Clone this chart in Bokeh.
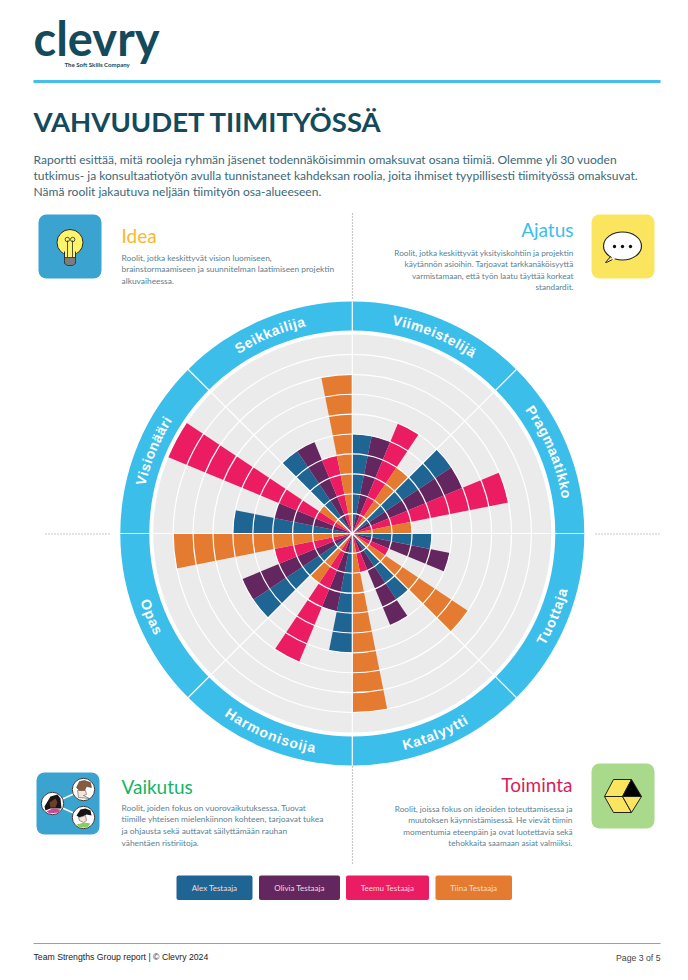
import math
from bokeh.plotting import figure
from bokeh.embed import file_html
from bokeh.resources import INLINE
from bokeh.core.properties import value
from bokeh.models import Range1d

roles = ["Viimeistelijä", "Pragmaatikko", "Tuottaja", "Katalyytti", "Harmonisoija", "Opas", "Visionääri", "Seikkailija"]
people = ["Alex Testaaja", "Olivia Testaaja", "Teemu Testaaja", "Tiina Testaaja"]
alex = [5, 6, 4, 4, 6, 6, 6, 5]
olivia = [5, 6, 5, 5, 4, 6, 4, 5]
teemu = [6, 8, 2, 2, 7, 4, 10, 4]
tiina = [4, 3, 7, 9, 3, 9, 2, 8]
series = [alex, olivia, teemu, tiina]
colors = ["#1F6593", "#64265F", "#EC1C63", "#E57B30"]
levels = [1, 2, 3, 4, 5, 6, 7, 8, 9]

TEAL = "#134A5C"
BODY = "#3A6878"
DESC = "#5A8292"
RING = "#3CBEEB"
GREY = "#EBEBEB"
BODY_FONT = "Lato"

p = figure(width=672, height=964, x_range=Range1d(0, 672), y_range=Range1d(16, 980),
           output_backend="svg", toolbar_location=None, min_border=0)
p.axis.visible = False
p.grid.visible = False
p.outline_line_color = None
p.background_fill_color = "white"


def Y(y):
    return 980 - y


def tx(x, y, s, size, color, align="left", font=BODY_FONT, bold=False, angle=0.0, base="middle"):
    p.text([x], [Y(y)], text=[s], text_font=value(font), text_font_size=f"{size}px",
           text_color=color, text_align=align, text_baseline=base, angle=[angle],
           text_font_style="bold" if bold else "normal")


def rrect(x0, y0, x1, y1, color, r=6, line=None):
    p.quad(left=[x0], right=[x1], top=[Y(y0)], bottom=[Y(y1)], fill_color=color,
           line_color=line, border_radius=r)


def poly(xs, ys, fill, line="#222222", w=1.0):
    p.patch(xs, [Y(v) for v in ys], fill_color=fill, line_color=line, line_width=w)


def seg(xs, ys, color, w=1.0, dash="solid"):
    p.line(xs, [Y(v) for v in ys], line_color=color, line_width=w, line_dash=dash)


# ---------- header ----------
tx(33, 37, "clevry", 47, TEAL, font="Lato", bold=True)
tx(64, 64, "The Soft Skills Company", 6.1, TEAL, font="Lato", bold=True)
seg([33, 660], [81, 81], "#45BEEE", 3.2)
tx(33, 121, "VAHVUUDET TIIMITYÖSSÄ", 27.5, TEAL, font="Lato", bold=True)
for yy, line in zip([158.5, 174.5, 190.5], [
    "Raportti esittää, mitä rooleja ryhmän jäsenet todennäköisimmin omaksuvat osana tiimiä. Olemme yli 30 vuoden",
    "tutkimus- ja konsultaatiotyön avulla tunnistaneet kahdeksan roolia, joita ihmiset tyypillisesti tiimityössä omaksuvat.",
    "Nämä roolit jakautuva neljään tiimityön osa-alueeseen.",
]):
    tx(33, yy, line, 12.05, BODY)

# ---------- dotted separators ----------
DOT = "#8E8E8E"
seg([352, 352], [213, 300], DOT, 1.2, "1 2")
seg([352, 352], [766, 864], DOT, 1.2, "1 2")
seg([45, 111], [533.5, 533.5], DOT, 1.2, "1 2")
seg([595, 660], [533.5, 533.5], DOT, 1.2, "1 2")

# ---------- radial chart ----------
CX, CY = 351.8, Y(533)
UNIT = 19.9
p.annulus([CX], [CY], inner_radius=203, outer_radius=232, fill_color=RING, line_color=None)
p.circle([CX], [CY], radius=199, fill_color=GREY, line_color=None)

n_roles = len(roles)
n_people = len(series)
sector = 2 * math.pi / n_roles
bar = sector / n_people
for j, vals in enumerate(series):
    ends = [math.pi / 2 - i * sector - j * bar for i in range(n_roles)]
    starts = [e - bar for e in ends]
    p.wedge([CX] * n_roles, [CY] * n_roles, radius=[v * UNIT for v in vals],
            start_angle=starts, end_angle=ends, fill_color=colors[j], line_color=None)

for lv in levels:
    p.circle([CX], [CY], radius=lv * UNIT, fill_color=None, line_color="white", line_width=1.2)

for i in range(n_roles):
    a = math.pi / 2 - i * sector
    p.line([CX, CX + 232 * math.cos(a)], [CY, CY + 232 * math.sin(a)], line_color="white", line_width=1.2)

widths = {"a": .556, "e": .556, "i": .278, "j": .278, "k": .556, "l": .278, "m": .889, "n": .611, "o": .611,
          "p": .611, "r": .389, "s": .556, "t": .333, "u": .611, "y": .556, "ä": .556, "g": .611,
          "S": .667, "V": .667, "P": .667, "H": .722, "K": .722, "T": .611, "O": .778}
LABEL_PX = 14
SPACING = 0.7
for i, role in enumerate(roles):
    mid = (i + 0.5) * sector
    lower = math.pi / 2 < mid < 3 * math.pi / 2
    ws = [widths[c] * LABEL_PX for c in role]
    total = sum(ws) + SPACING * (len(role) - 1)
    pos = -total / 2
    r = 217.5
    for c, w in zip(role, ws):
        off = (pos + w / 2) / r
        th = mid - off if lower else mid + off
        xx = CX + r * math.sin(th)
        yy = CY + r * math.cos(th)
        ang = math.pi - th if lower else -th
        p.text([xx], [yy], text=[c], text_font=value("Liberation Sans"), text_font_size=f"{LABEL_PX}px",
               text_color="white", text_font_style="bold", text_align="center", text_baseline="middle", angle=[ang])
        pos += w + SPACING

# ---------- quadrant texts ----------
tx(121, 235, "Idea", 19, "#FBB82A", bold=False)
for yy, s in zip([257, 268.5, 280], ["Roolit, jotka keskittyvät vision luomiseen,",
                                     "brainstormaamiseen ja suunnitelman laatimiseen projektin",
                                     "alkuvaiheessa."]):
    tx(121, yy, s, 8.4, DESC)

tx(573, 229, "Ajatus", 19, RING, align="right")
for yy, s in zip([252, 263, 275, 286.5], ["Roolit, jotka keskittyvät yksityiskohtiin ja projektin",
                                          "käytännön asioihin. Tarjoavat tarkkanäköisyyttä",
                                          "varmistamaan, että työn laatu täyttää korkeat",
                                          "standardit."]):
    tx(573, yy, s, 8.2, DESC, align="right")

tx(121, 786, "Vaikutus", 19, "#12B565")
for yy, s in zip([807, 818.5, 830.5, 842], ["Roolit, joiden fokus on vuorovaikutuksessa. Tuovat",
                                            "tiimille yhteisen mielenkiinnon kohteen, tarjoavat tukea",
                                            "ja ohjausta sekä auttavat säilyttämään rauhan",
                                            "vähentäen ristiriitoja."]):
    tx(121, yy, s, 8.4, DESC)

tx(572, 784, "Toiminta", 19, "#D81E5B", align="right")
for yy, s in zip([808, 819, 831, 842], ["Roolit, joissa fokus on ideoiden toteuttamisessa ja",
                                        "muutoksen käynnistämisessä. He vievät tiimin",
                                        "momentumia eteenpäin ja ovat luotettavia sekä",
                                        "tehokkaita saamaan asiat valmiiksi."]):
    tx(572, yy, s, 8.2, DESC, align="right")

# ---------- icon: bulb ----------
rrect(38, 214, 101, 278, "#3BA3D0", 8)
p.circle([69.5], [Y(242)], radius=13, fill_color="#FFF56A", line_color="#2A2A2A", line_width=1)
poly([63, 76, 75, 64], [251, 251, 258, 258], "#FFF56A", None, 0)
seg([64, 64], [251, 258], "#2A2A2A", 1)
seg([75, 75], [251, 258], "#2A2A2A", 1)
seg([67, 67], [258, 240], "#2A2A2A", 0.8)
seg([72, 72], [258, 240], "#2A2A2A", 0.8)
p.circle([66.8, 72.2], [Y(239), Y(239)], radius=2.2, fill_color=None, line_color="#2A2A2A", line_width=0.8)
poly([64, 75, 75, 72, 67, 64], [257, 257, 263, 265, 265, 263], "#7C7C7C", "#2A2A2A", 0.8)

# ---------- icon: bubble ----------
rrect(591, 214, 654, 278, "#FBE55F", 8)
p.ellipse([622], [Y(245.5)], width=38, height=28, fill_color="white", line_color="#222222", line_width=1.2)
poly([609, 612, 604, 615], [254, 258, 262, 258.5], "white", None, 0)
seg([610, 605, 606, 612], [256, 262, 262, 259], "#222222", 1)
p.circle([614, 622, 630], [Y(246)] * 3, radius=1.7, fill_color="#111111", line_color=None)

# ---------- icon: network ----------
rrect(36, 772, 99, 834, "#3BA3D0", 8)
seg([52, 83], [803, 789], "white", 1.6)
seg([52, 83], [803, 817], "white", 1.6)
for cx_, cy_ in [(83, 789), (52, 803), (83, 817)]:
    p.circle([cx_], [Y(cy_)], radius=11.2, fill_color="white", line_color="#3A3A3A", line_width=1)
poly([76, 79, 84, 90, 91, 86, 84, 80], [787, 781, 780, 782, 787, 786, 790, 791], "#8A5A3C", "#3A3A3A", 0.5)
poly([77, 85, 86, 83, 89, 78], [790, 790, 794, 795, 798, 797], "#F6E4D6", "#3A3A3A", 0.5)
poly([44, 50, 57, 60, 61, 56, 50, 45], [806, 796, 794, 798, 808, 808, 808, 810], "#1A1414", None, 0)
poly([49, 55, 57, 55, 50], [802, 798, 802, 807, 807], "#6E3F2A", None, 0)
poly([46, 52, 60, 58, 49], [811, 808, 809, 812, 813], "#D0459A", None, 0)
poly([76, 80, 85, 90, 91, 86, 82, 79], [815, 809, 808, 810, 815, 814, 816, 817], "#151515", None, 0)
poly([78, 85, 86, 83, 79], [817, 815, 820, 822, 820], "#F6E4D6", "#3A3A3A", 0.5)
poly([76, 84, 90, 87, 79], [824, 822, 823, 827, 827], "#8CCB5E", None, 0)

# ---------- icon: cube ----------
rrect(591, 763, 654, 828, "#A9D98B", 8)
poly([604, 613, 631, 622], [796, 779, 779, 796], "#FBE55F")
poly([631, 641, 622], [779, 796, 796], "#000000")
poly([604, 622, 631, 613], [796, 796, 812, 812], "#FBE55F")
poly([622, 641, 631], [796, 796, 812], "#FBE55F")

# ---------- legend ----------
lefts = [176, 258.5, 345.5, 435]
rights = [252, 339.5, 428.5, 511.5]
for name, c, l, r in zip(people, colors, lefts, rights):
    rrect(l, 875, r, 899.5, c, 2)
    tx((l + r) / 2, 887.5, name, 8, "#EFDCDC", align="center")

# ---------- footer ----------
seg([33, 660], [943, 943], "#45BEEE", 1)
tx(33, 956, "Team Strengths Group report | © Clevry 2024", 8.7, "#222222", font="Liberation Sans")
tx(660, 957, "Page 3 of 5", 8.7, "#444444", align="right", font="Liberation Sans")

open("out.html", "w").write(file_html(p, INLINE))
